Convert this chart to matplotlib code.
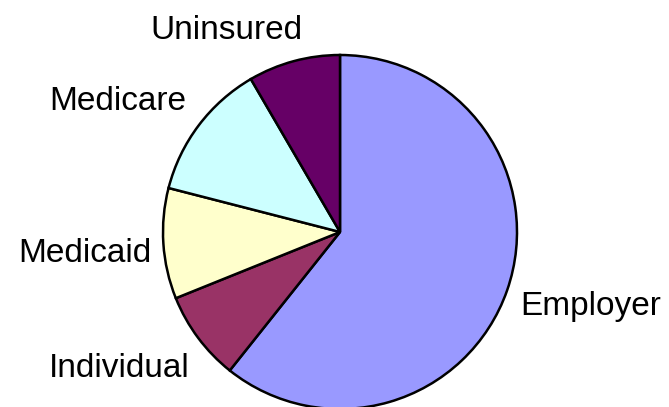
"""
Health insurance coverage by source, pie chart
"""

import matplotlib
matplotlib.use("Agg")
from matplotlib import pyplot as plt

# coverage shares (percent)
sources = ["Employer", "Individual", "Medicaid", "Medicare", "Uninsured"]
shares = [60.7, 8.2, 10.1, 12.6, 8.4]
colors = ["#9999FF", "#993366", "#FFFFCC", "#CCFFFF", "#660066"]

# label spots around the pie (units of pie radius)
label_x = [1.418, -1.249, -1.439, -1.254, -0.644]
label_y = [-0.469, -0.817, -0.168, 0.689, 1.089]

plt.rcParams["font.family"] = ["Liberation Sans", "DejaVu Sans"]

fig = plt.figure(figsize=(6.69, 4.07), dpi=100)
# axes box sized so the pie centre sits at (340, 232) px with a 177 px radius
ax = fig.add_axes([(340 - 177) / 669, (407 - 232 - 177) / 407, 354 / 669, 354 / 407])

ax.pie(shares, colors=colors, startangle=90, counterclock=False, radius=1.0,
       wedgeprops={"edgecolor": "black", "linewidth": 1.8})
ax.set_xlim(-1, 1)
ax.set_ylim(-1, 1)
ax.set_aspect("equal")
ax.axis("off")

for name, x, y in zip(sources, label_x, label_y):
    ax.text(x, y, name, ha="center", va="baseline", fontsize=24,
            color="black", clip_on=False)

fig.savefig("out.png", dpi=100)
